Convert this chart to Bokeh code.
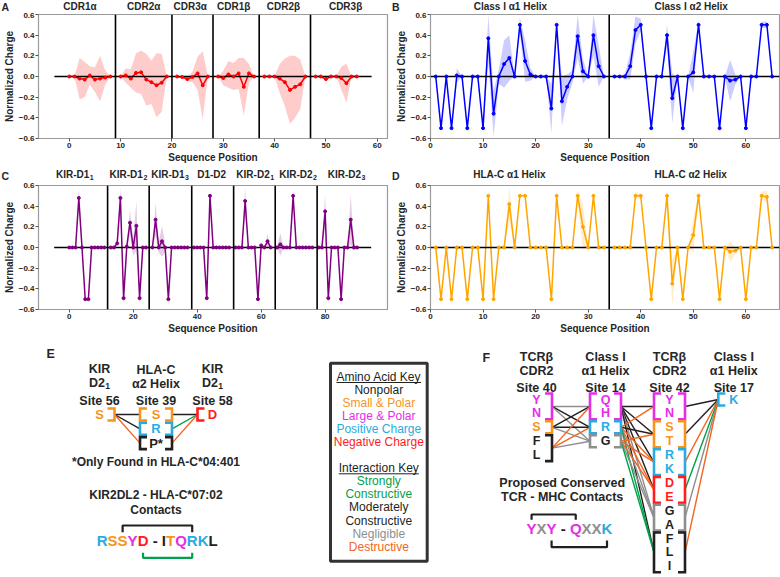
import numpy as np
from bokeh.plotting import figure
from bokeh.layouts import column, row
from bokeh.models import Range1d, FixedTicker, CustomJSTickFormatter, Span, ColumnDataSource
from bokeh.embed import file_html
from bokeh.resources import INLINE
from bokeh.core.properties import value

FONT = "Liberation Sans"
INK = "#262626"

# ---------------- Panel A : TCR CDR loops ----------------
a_titles = ["CDR1α", "CDR2α", "CDR3α", "CDR1β", "CDR2β", "CDR3β"]
a_subs = ["", "", "", "", "", ""]
a_title_x = [2.6, 14.9, 23.9, 32.3, 41.9, 53.9]
a_dividers = [9, 20, 28, 37, 47]
a_pos = [list(range(0, 9)), list(range(10, 20)), list(range(21, 28)),
         list(range(29, 37)), list(range(38, 47)), list(range(48, 57))]
a_charge = [[0, 0, -0.02, -0.03, 0.01, -0.03, -0.02, -0.01, 0],
            [0, 0.01, -0.02, 0.035, 0.04, -0.03, -0.055, -0.085, -0.06, 0],
            [0, -0.005, -0.025, -0.005, 0.03, -0.085, 0],
            [0, -0.015, 0.02, 0, 0.03, -0.1, 0.03, 0],
            [0, 0, 0, -0.02, -0.055, -0.13, -0.1, -0.075, 0],
            [0, 0, -0.025, 0, 0, -0.015, -0.065, 0, 0]]
a_sd = [[0, 0, 0.2, 0.17, 0.09, 0.12, 0.22, 0.07, 0],
        [0, 0.07, 0.09, 0.19, 0.21, 0.25, 0.21, 0.31, 0.28, 0],
        [0, 0, 0.02, 0.05, 0.16, 0.33, 0],
        [0, 0.07, 0.13, 0.13, 0.15, 0.28, 0.09, 0],
        [0, 0, 0, 0.14, 0.23, 0.33, 0.3, 0.24, 0],
        [0, 0, 0.01, 0, 0, 0.11, 0.19, 0, 0]]
a_zero = (-2.9, 58.9)
a_xlim = (-6.0, 62.0)
a_xticks = [0, 10, 20, 30, 40, 50, 60]

# ---------------- Panel B : Class I helices ----------------
b_titles = ["Class I α1 Helix", "Class I α2 Helix"]
b_subs = ["", ""]
b_title_x = [15.2, 49.6]
b_dividers = [34]
b_pos = [list(range(1, 34)), list(range(35, 66))]
b_charge = [[0, -0.5, 0, -0.5, 0.01, 0, -0.5, 0, 0, -0.5, 0.37, -0.36, 0, 0.12, 0.18, 0, 0.5,
             0.15, 0.02, 0, 0, 0, -0.31, 0.5, -0.24, -0.1, 0, 0.39, 0.05, 0, 0.4, 0.1, 0],
            [0, 0, 0, 0.1, 0.45, 0.5, 0, -0.5, 0, 0, 0.4, -0.21, 0, -0.5, 0, 0.04, 0.5, 0, 0, 0,
             -0.5, 0, -0.04, -0.03, 0, -0.5, 0, 0, 0.5, 0.5, 0]]
b_sd = [[0, 0, 0, 0, 0.07, 0, 0, 0, 0, 0, 0.23, 0.22, 0.07, 0.23, 0.22, 0, 0.07,
         0.2, 0.06, 0, 0, 0, 0.24, 0, 0.24, 0.12, 0.06, 0.21, 0.12, 0, 0.2, 0.2, 0],
        [0, 0, 0.03, 0.13, 0.13, 0.06, 0, 0, 0, 0, 0.1, 0.24, 0, 0, 0, 0.2, 0.04, 0, 0, 0,
         0, 0, 0.2, 0.05, 0, 0, 0, 0, 0.03, 0.03, 0]]
b_zero = (0, 66.4)
b_xlim = (0, 66.4)
b_xticks = [0, 10, 20, 30, 40, 50, 60]

# ---------------- Panel C : KIR domains ----------------
c_titles = ["KIR-D1", "KIR-D1", "KIR-D1", "D1-D2", "KIR-D2", "KIR-D2", "KIR-D2"]
c_subs = ["1", "2", "3", "", "1", "2", "3"]
c_title_x = [2.6, 19.2, 32.1, 45.0, 58.5, 71.8, 86.8]
c_dividers = [12, 25, 38.3, 51.4, 64.4, 77.5]
c_pos = [list(range(0, 12)), list(range(13, 25)), list(range(26, 38)), list(range(39, 51)),
         list(range(52, 64)), list(range(65, 77)), list(range(78, 91))]
c_charge = [[0, 0, 0, 0.48, 0, -0.5, -0.5, 0, 0, 0, 0, 0],
            [0, 0, 0.04, 0.48, -0.49, 0.01, 0.24, 0, 0.21, -0.49, 0, 0],
            [0, 0.27, 0, 0.06, 0, -0.5, 0, 0, 0, 0, 0, 0],
            [0, 0, 0, 0, -0.49, 0.5, 0, 0, 0, 0, 0, 0],
            [0, 0, 0, 0.45, 0, 0, 0, -0.5, 0.02, 0, 0.06, 0],
            [0, 0.03, 0, 0, 0, 0.5, 0, 0, 0, 0, 0, 0],
            [0, 0, 0.35, -0.49, 0, 0, 0, -0.5, 0, 0, 0.27, 0, 0]]
c_sd = [[0, 0, 0, 0.1, 0, 0.01, 0.01, 0, 0, 0, 0, 0],
        [0, 0, 0.02, 0.1, 0.06, 0.03, 0.12, 0.08, 0.24, 0.05, 0, 0],
        [0, 0.16, 0.05, 0.15, 0.04, 0.02, 0, 0, 0, 0, 0, 0],
        [0, 0, 0, 0, 0.02, 0.02, 0, 0, 0, 0, 0, 0],
        [0, 0, 0, 0.13, 0, 0, 0, 0.02, 0.03, 0, 0.07, 0],
        [0, 0.11, 0, 0, 0, 0.03, 0, 0, 0, 0, 0, 0],
        [0, 0, 0.17, 0.06, 0, 0, 0, 0.05, 0, 0, 0.24, 0.03, 0]]
c_zero = (-4.7, 94.4)
c_xlim = (-9.6, 99.5)
c_xticks = [0, 20, 40, 60, 80]

# ---------------- Panel D : HLA-C helices ----------------
d_titles = ["HLA-C α1 Helix", "HLA-C α2 Helix"]
d_subs = ["", ""]
d_title_x = [15.0, 49.5]
d_dividers = [34]
d_pos = [list(range(1, 34)), list(range(35, 66))]
d_charge = [[0, -0.5, 0, -0.5, 0, 0, -0.5, 0, 0, -0.5, 0.5, -0.5, 0, 0, 0.42, 0, 0.5, 0.5,
             0, 0, 0, 0, -0.5, 0.5, 0, 0, 0, 0.5, 0.2, 0, 0.5, 0, 0],
            [0, 0, 0, 0, 0.5, 0.5, 0, -0.5, 0, 0, 0.5, -0.35, 0, -0.5, 0, 0.12, 0.5, 0, 0, 0,
             -0.5, 0, -0.04, -0.03, 0, -0.5, 0, 0, 0.5, 0.49, 0]]
d_sd = [[0, 0, 0, 0, 0.03, 0, 0, 0, 0, 0, 0, 0, 0, 0, 0.17, 0, 0, 0,
         0, 0, 0, 0, 0, 0, 0, 0, 0, 0.05, 0.22, 0, 0, 0, 0],
        [0, 0, 0, 0, 0.04, 0.02, 0, 0, 0, 0, 0, 0.23, 0, 0, 0, 0.17, 0.03, 0, 0, 0,
         0, 0, 0.1, 0.03, 0, 0, 0, 0, 0.04, 0.06, 0]]
d_zero = (0, 66.4)
d_xlim = (0, 66.4)
d_xticks = [0, 10, 20, 30, 40, 50, 60]

y_ticks = [-0.6, -0.4, -0.2, 0.0, 0.2, 0.4, 0.6]

# ---------------- colours ----------------
NP = "#231F20"     # nonpolar
SP = "#F7941D"     # small & polar
LP = "#E62EE6"     # large & polar
POS = "#29ABE2"    # positive charge
NEG = "#FF1D1D"    # negative charge
GRN = "#00A14B"    # strongly constructive
GRY = "#8E8E8E"    # negligible
DES = "#F26522"    # destructive

BOLD_W = {"R": 722, "S": 667, "Y": 667, "D": 722, " ": 278, "-": 333, "I": 278, "T": 611,
          "Q": 778, "K": 722, "L": 611, "X": 667, "1": 556, "2": 556, "3": 556}
REG_W = {"A": 667, "m": 833, "i": 222, "n": 556, "o": 556, " ": 278, "c": 500, "d": 556,
         "K": 667, "e": 556, "y": 500, "I": 278, "t": 278, "r": 333, "a": 556}


def bold_width(t, size):
    return sum(BOLD_W[c] for c in t) * size / 1000.0


def put_text(p, xs, ys, texts, colors, size, style="bold", align="center"):
    src = ColumnDataSource(dict(x=list(xs), y=list(ys), t=list(texts), c=list(colors)))
    p.text("x", "y", text="t", source=src, text_color="c", text_font=value(FONT),
           text_font_size=value(f"{size}px"), text_font_style=value(style),
           text_align=value(align), text_baseline=value("middle"))


def sub_text(p, cx, y, main, sub, size, sub_size, u, dy):
    """Text with a subscript; u = data units per pixel, dy = subscript drop (data units)."""
    wm = bold_width(main, size)
    ws = bold_width(sub, sub_size)
    left = cx - (wm + ws + 0.5) / 2 * u
    put_text(p, [left], [y], [main], [INK], size, align="left")
    put_text(p, [left + (wm + 0.5) * u], [y + dy], [sub], [INK], sub_size, align="left")


def charge_panel(w, h, borders, xlim, xticks, pos, charge, sd, color, dividers, zero):
    bl, br, bt, bb = borders
    p = figure(width=w, height=h, output_backend="svg", toolbar_location=None,
               x_range=Range1d(*xlim), y_range=Range1d(-0.6, 0.6),
               min_border_left=bl, min_border_right=br, min_border_top=bt, min_border_bottom=bb)
    p.xgrid.visible = False
    p.ygrid.visible = False
    p.outline_line_color = "#9a9a9a"
    p.outline_line_width = 1.2
    for xs, ys, ss in zip(pos, charge, sd):
        xs = np.asarray(xs, float)
        ys = np.asarray(ys, float)
        ss = np.asarray(ss, float)
        p.varea(x=xs, y1=ys - ss, y2=ys + ss, fill_color=color, fill_alpha=0.2)
    for d in dividers:
        p.add_layout(Span(location=d, dimension="height", line_color="black", line_width=1.6))
    for xs, ys in zip(pos, charge):
        p.line(xs, ys, line_color=color, line_width=1.5)
    p.line(list(zero), [0, 0], line_color="black", line_width=1.6)
    for xs, ys in zip(pos, charge):
        p.scatter(xs, ys, size=3.0, marker="circle", color=color)

    p.xaxis.ticker = FixedTicker(ticks=xticks)
    p.yaxis.ticker = FixedTicker(ticks=y_ticks)
    p.yaxis.formatter = CustomJSTickFormatter(code="return tick.toFixed(1).replace('-', '\u2212');")
    p.xaxis.axis_label = "Sequence Position"
    p.yaxis.axis_label = "Normalized Charge"
    for ax in [p.xaxis[0], p.yaxis[0]]:
        ax.axis_label_text_font = FONT
        ax.axis_label_text_font_style = "bold"
        ax.axis_label_text_font_size = "10px"
        ax.axis_label_text_color = INK
        ax.major_label_text_font = FONT
        ax.major_label_text_font_style = "bold"
        ax.major_label_text_font_size = "8px"
        ax.major_label_text_color = INK
        ax.axis_line_color = "#9a9a9a"
        ax.major_tick_line_color = "#555555"
        ax.major_tick_out = 3
        ax.major_tick_in = 0
        ax.minor_tick_line_color = None
        ax.axis_label_standoff = 1
        ax.major_label_standoff = 1
    return p


def header_strip(w, hs, bl, br, xlim, titles, subs, title_x, title_y, letter, letter_left, letter_y):
    fw = w - bl - br
    u = (xlim[1] - xlim[0]) / fw
    s = figure(width=w, height=hs, output_backend="svg", toolbar_location=None,
               x_range=Range1d(xlim[0] - bl * u, xlim[1] + br * u), y_range=Range1d(0, hs),
               x_axis_location=None, y_axis_location=None, min_border=0)
    s.outline_line_color = None
    s.grid.visible = False
    for t, sb, tx in zip(titles, subs, title_x):
        if sb:
            sub_text(s, tx, title_y, t, sb, 10, 7, u, -3)
        else:
            put_text(s, [tx], [title_y], [t], [INK], 10)
    put_text(s, [xlim[0] - (bl - letter_left) * u], [letter_y], [letter], [INK], 10.5, align="left")
    return s


hA = header_strip(390, 12, 35, 3, a_xlim, a_titles, a_subs, a_title_x, 6, "A", 1, 6)
hB = header_strip(390, 12, 40, 1, b_xlim, b_titles, b_subs, b_title_x, 6, "B", 1.5, 6)
pA = charge_panel(390, 153, (35, 3, 2, 25), a_xlim, a_xticks, a_pos, a_charge, a_sd, "#FF0000",
                  a_dividers, a_zero)
pB = charge_panel(390, 153, (40, 1, 2, 25), b_xlim, b_xticks, b_pos, b_charge, b_sd, "#0000FF",
                  b_dividers, b_zero)
hC = header_strip(390, 17, 35, 3, c_xlim, c_titles, c_subs, c_title_x, 8.5, "C", 1, 6.5)
hD = header_strip(390, 17, 40, 1, d_xlim, d_titles, d_subs, d_title_x, 8.5, "D", 1.5, 6.5)
pC = charge_panel(390, 154, (35, 3, 3, 25), c_xlim, c_xticks, c_pos, c_charge, c_sd, "#800080",
                  c_dividers, c_zero)
pD = charge_panel(390, 154, (40, 1, 3, 25), d_xlim, d_xticks, d_pos, d_charge, d_sd, "#FFA500",
                  d_dividers, d_zero)

# ---------------- Bottom diagrams (E, key, F) ----------------
pE = figure(width=780, height=241, output_backend="svg", toolbar_location=None,
            x_range=Range1d(0, 780), y_range=Range1d(577, 336),
            x_axis_location=None, y_axis_location=None, min_border=0)
pE.outline_line_color = None
pE.grid.visible = False


def bracket(p, xbar, y0, y1, opens_right, color, tick=7):
    t = tick if opens_right else -tick
    p.line([xbar + t, xbar, xbar, xbar + t], [y0, y0, y1, y1], line_color=color,
           line_width=2.6, line_join="miter")


def colored_string(p, cx, y, chars, colors, size):
    widths = [BOLD_W[c] * size / 1000.0 for c in chars]
    total = sum(widths)
    lefts = cx - total / 2 + np.concatenate([[0], np.cumsum(widths[:-1])])
    centers = lefts + np.array(widths) / 2
    keep = [i for i, c in enumerate(chars) if c != " "]
    put_text(p, [lefts[i] for i in keep], [y] * len(keep), [chars[i] for i in keep],
             [colors[i] for i in keep], size, align="left")
    return centers


def conn(p, x0, x1, y_bar, y_leg, color):
    p.line([x0, x0, x1, x1], [y_leg, y_bar, y_bar, y_leg], line_color=color, line_width=2.2)


# panel letters
put_text(pE, [46, 482], [353, 357], ["E", "F"], [INK, INK], 12.5, align="left")

# ----- Panel E -----
e_row = lambda i: 414 + 14.3 * i
e_cx = [99, 155.5, 212]
put_text(pE, [99, 155.5, 212, 155.5, 99, 155.5, 212],
         [368, 369, 368, 383, 400, 400, 400],
         ["KIR", "HLA-C", "KIR", "α2 Helix", "Site 56", "Site 39", "Site 58"],
         [INK] * 7, 12.5)
sub_text(pE, 99, 382, "D2", "1", 12.5, 8.5, 1.0, 3.5)
sub_text(pE, 212, 382, "D2", "1", 12.5, 8.5, 1.0, 3.5)
e_lines = [((e_cx[0] + 15, e_row(0)), (e_cx[1] - 16, e_row(0)), NP),
           ((e_cx[0] + 15, e_row(0)), (e_cx[1] - 16, e_row(1)), NP),
           ((e_cx[0] + 15, e_row(0)), (e_cx[1] - 16, e_row(2)), DES),
           ((e_cx[1] + 16, e_row(0)), (e_cx[2] - 15, e_row(0)), NP),
           ((e_cx[1] + 16, e_row(1)), (e_cx[2] - 15, e_row(0)), GRN),
           ((e_cx[1] + 16, e_row(2)), (e_cx[2] - 15, e_row(0)), DES)]
for (x0, y0), (x1, y1), c in e_lines:
    pE.line([x0, x1], [y0, y1], line_color=c, line_width=1.4)
bracket(pE, e_cx[0] + 15, e_row(0) - 6, e_row(0) + 6, False, SP)
for i, c in enumerate([SP, POS, NP]):
    bracket(pE, e_cx[1] - 16, e_row(i) - 6, e_row(i) + 6, True, c)
    bracket(pE, e_cx[1] + 16, e_row(i) - 6, e_row(i) + 6, False, c)
bracket(pE, e_cx[2] - 15, e_row(0) - 6, e_row(0) + 6, True, NEG)
put_text(pE, [e_cx[0], e_cx[1], e_cx[1], e_cx[1], e_cx[2]],
         [e_row(0), e_row(0), e_row(1), e_row(2), e_row(0)],
         ["S", "S", "R", "P*", "D"], [SP, SP, POS, NP, NEG], 13)
put_text(pE, [155.5, 155.5, 155.5], [461.7, 494.3, 509.3],
         ["*Only Found in HLA-C*04:401", "KIR2DL2 - HLA-C*07:02", "Contacts"], [INK] * 3, 12)
e_chars = list("RSSYD - ITQRKL")
e_cols = [POS, SP, SP, LP, NEG, NP, NP, NP, NP, SP, LP, POS, POS, NP]
ec = colored_string(pE, 156.7, 540, e_chars, e_cols, 15)
conn(pE, ec[2], ec[11], 525, 531.7, NP)
conn(pE, ec[4], ec[11], 557.3, 552.3, GRN)

# ----- Key box -----
pE.quad(left=[330], right=[426.7], top=[362.7], bottom=[560.7], fill_color=None,
        line_color="#333333", line_width=3)
key_y = [376, 389, 402, 415, 428.3, 441, 467.3, 480.7, 493.7, 506.7, 520, 533.3, 546.3]
key_t = ["Amino Acid Key", "Nonpolar", "Small & Polar", "Large & Polar", "Positive Charge",
         "Negative Charge", "Interaction Key", "Strongly", "Constructive", "Moderately",
         "Constructive", "Negligible", "Destructive"]
key_c = [NP, NP, SP, LP, POS, NEG, NP, GRN, GRN, NP, NP, GRY, DES]
put_text(pE, [378.3] * len(key_t), key_y, key_t, key_c, 12, style="normal")
for t, yy in [("Amino Acid Key", 376), ("Interaction Key", 467.3)]:
    wdt = sum(REG_W[ch] for ch in t) * 12 / 1000.0
    pE.line([378.3 - wdt / 2, 378.3 + wdt / 2], [yy + 6, yy + 6], line_color=NP, line_width=1)

# ----- Panel F -----
f_row = lambda i: 399 + 13.9 * i
f_cx = [536, 605, 669, 733.3]
put_text(pE, f_cx * 3, [356.7] * 4 + [370] * 4 + [387.3] * 4,
         ["TCRβ", "Class I", "TCRβ", "Class I", "CDR2", "α1 Helix", "CDR2", "α1 Helix",
          "Site 40", "Site 14", "Site 42", "Site 17"], [INK] * 12, 12.5)
f_groups = [
    [("YN", LP, LP, 0), ("S", SP, SP, 2), ("FL", NP, NP, 3)],
    [("QH", LP, LP, 0), ("R", POS, POS, 2), ("G", NP, GRY, 3)],
    [("YN", LP, LP, 0), ("ST", SP, SP, 2), ("RK", POS, POS, 4), ("DE", NEG, NEG, 6),
     ("GA", NP, GRY, 8), ("FLI", NP, NP, 10)],
    [("K", POS, POS, 0)],
]
f_mid = [[f_row(r0 + (len(s) - 1) / 2) for s, _, _, r0 in col] for col in f_groups]
L_OFF, R_OFF = 15.5, 15.5
f_edges = [
    (0, 0, 0, GRY), (0, 0, 1, NP), (0, 0, 2, GRY),
    (0, 1, 0, NP), (0, 1, 1, NP), (0, 1, 2, GRY),
    (0, 2, 0, DES), (0, 2, 1, DES), (0, 2, 2, GRY),
    (1, 0, 0, NP), (1, 0, 1, NP), (1, 0, 2, NP), (1, 0, 3, NP), (1, 0, 4, GRY), (1, 0, 5, NP),
    (1, 1, 0, DES), (1, 1, 1, NP), (1, 1, 2, DES), (1, 1, 3, DES), (1, 1, 4, GRY), (1, 1, 5, GRN),
    (1, 2, 1, DES), (1, 2, 2, DES), (1, 2, 3, DES), (1, 2, 4, GRY), (1, 2, 5, GRN),
    (2, 0, 0, NP), (2, 1, 0, NP), (2, 2, 0, DES), (2, 3, 0, GRN), (2, 4, 0, GRY), (2, 5, 0, DES),
]
for col, g0, g1, c in f_edges:
    x0 = f_cx[col] + R_OFF
    x1 = f_cx[col + 1] - L_OFF
    pE.line([x0, x1], [f_mid[col][g0], f_mid[col + 1][g1]], line_color=c, line_width=1.4)
for ci, col in enumerate(f_groups):
    for s, tc, bc, r0 in col:
        y0 = f_row(r0) - 6
        y1 = f_row(r0 + len(s) - 1) + 6
        if ci > 0:
            bracket(pE, f_cx[ci] - L_OFF, y0, y1, True, bc)
        if ci < 3:
            bracket(pE, f_cx[ci] + R_OFF, y0, y1, False, bc)
        put_text(pE, [f_cx[ci]] * len(s), [f_row(r0 + k) for k in range(len(s))], list(s),
                 [tc] * len(s), 12.5)
put_text(pE, [561.7, 561.7], [482.3, 496.7], ["Proposed Conserved", "TCR - MHC Contacts"],
         [INK, INK], 12.5)
f_chars = list("YXY - QXXK")
f_cols = [LP, GRY, LP, NP, NP, NP, LP, GRY, GRY, POS]
fc = colored_string(pE, 569, 528.3, f_chars, f_cols, 15)
conn(pE, fc[0], fc[6], 514, 519.3, NP)
conn(pE, fc[2], fc[9], 546.7, 540, NP)

p = column(row(hA, hB), row(pA, pB), row(hC, hD), row(pC, pD), pE)
open("out.html", "w").write(file_html(p, INLINE))
